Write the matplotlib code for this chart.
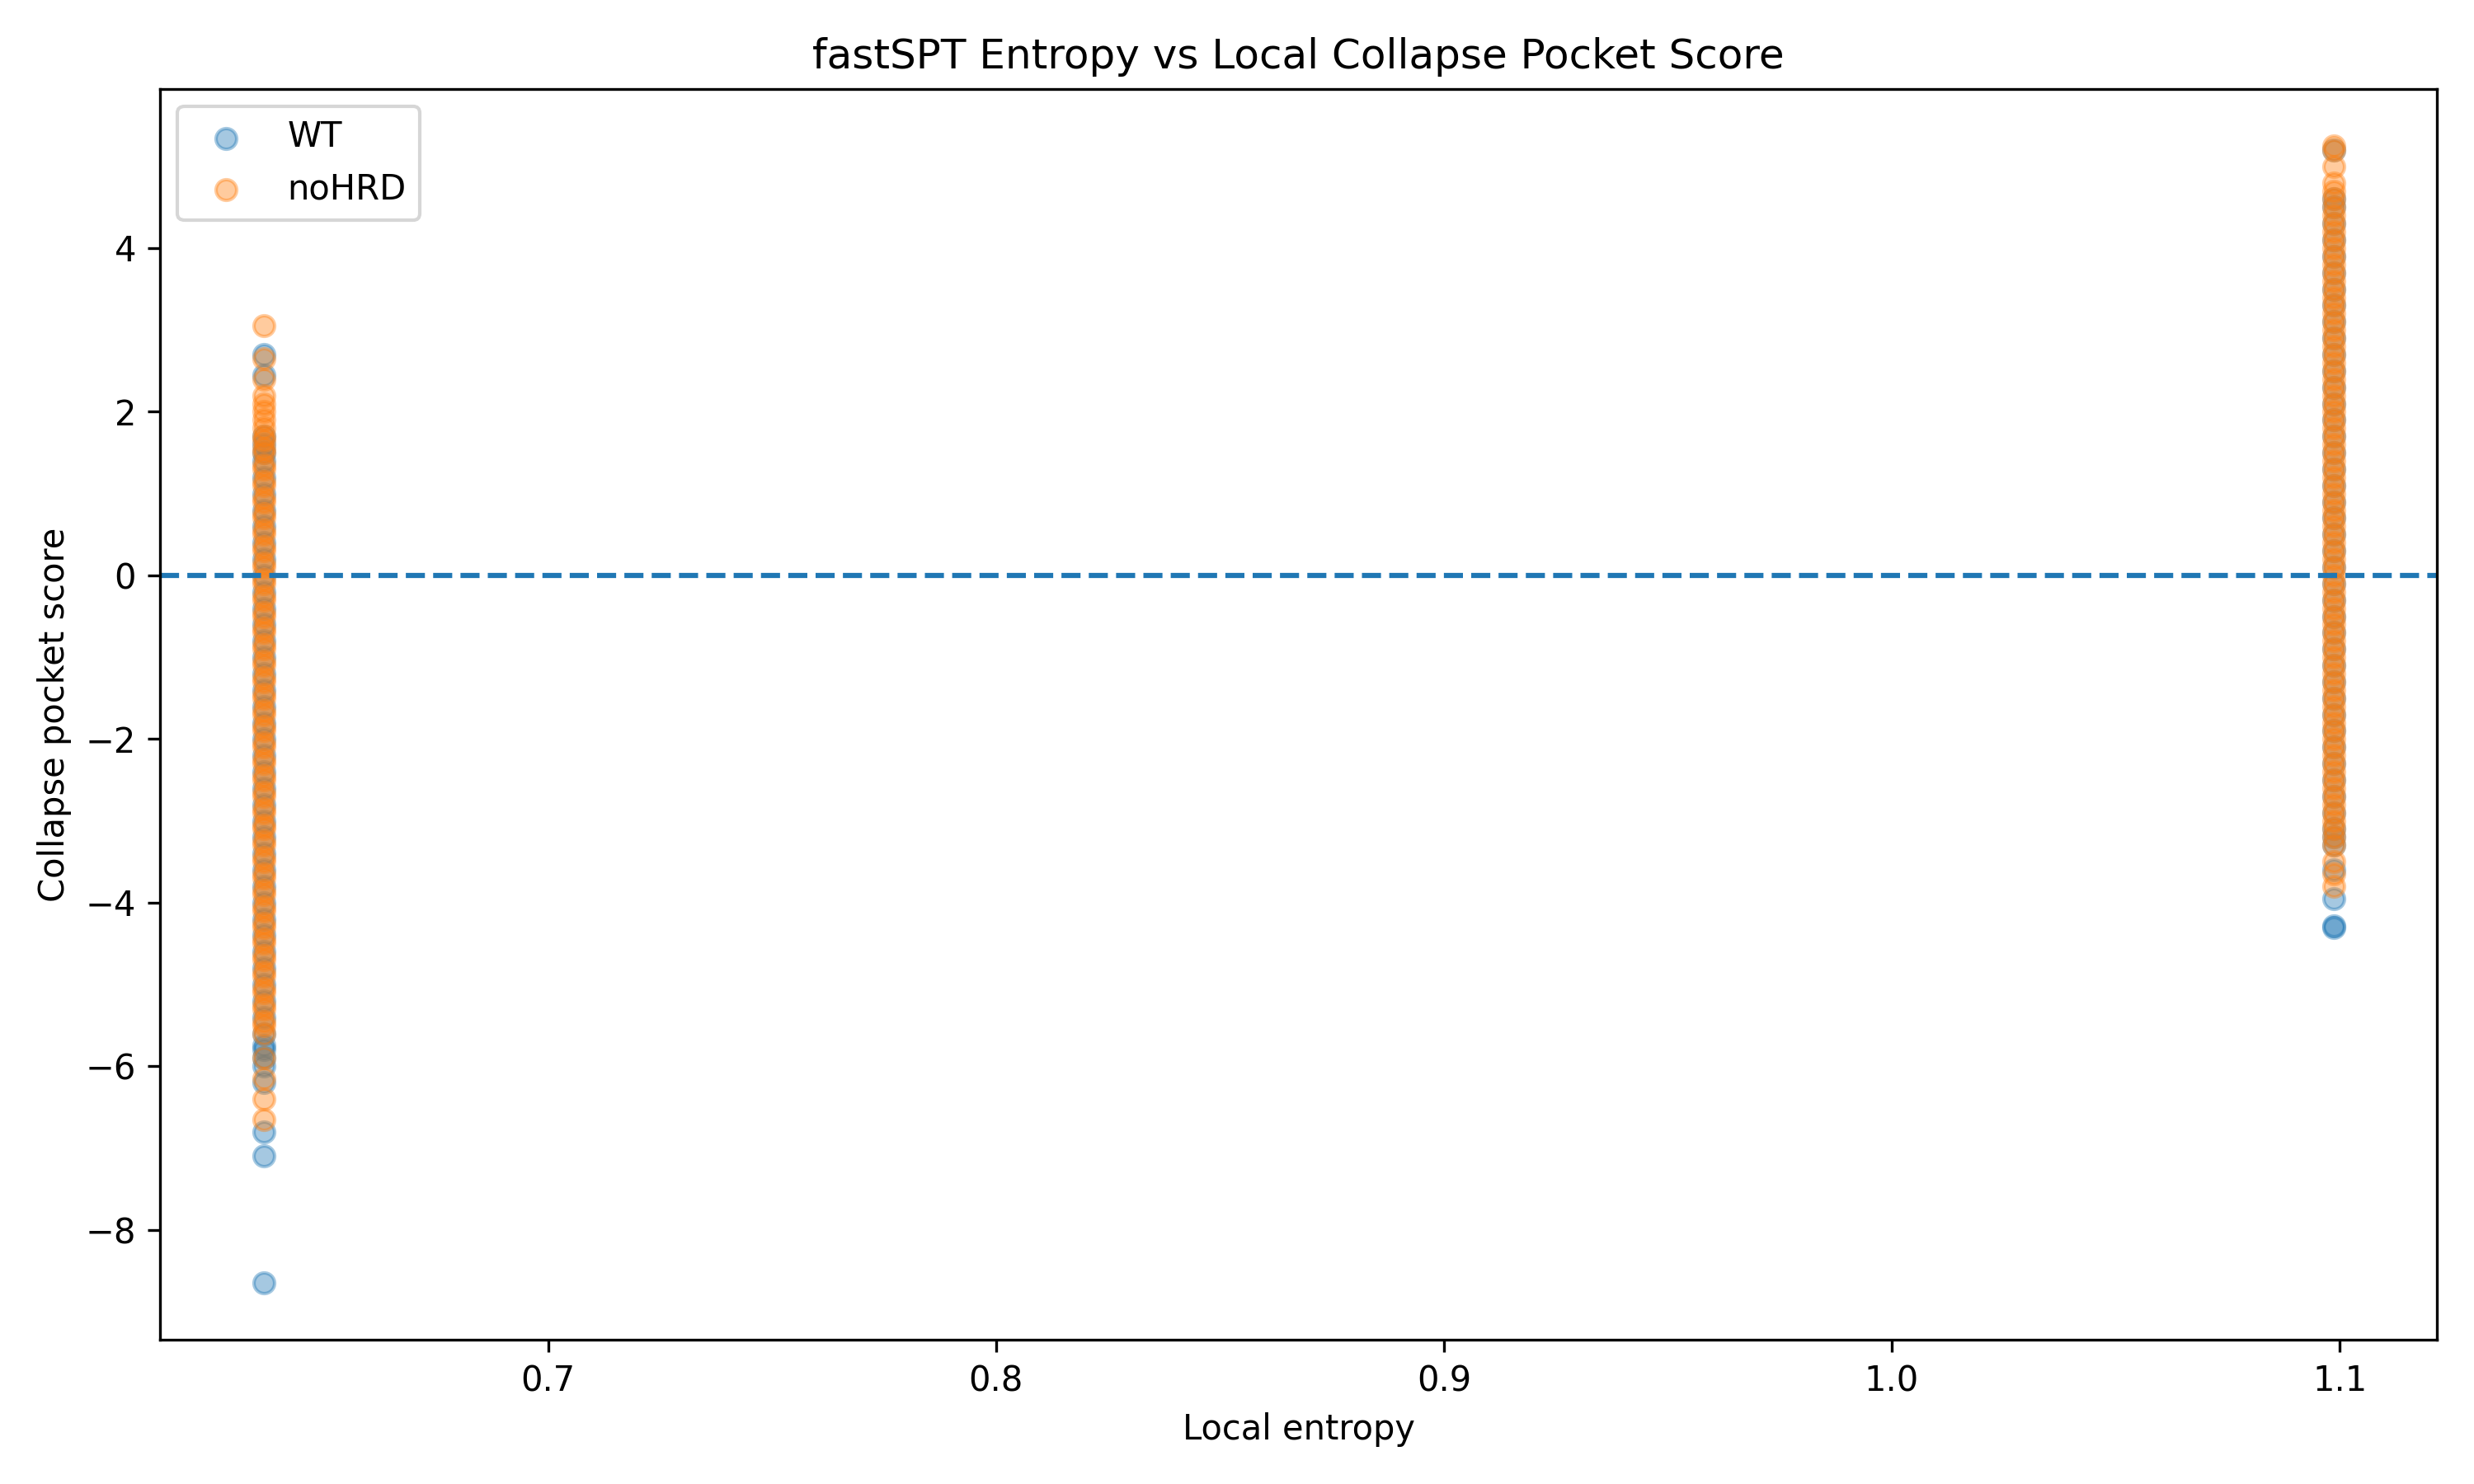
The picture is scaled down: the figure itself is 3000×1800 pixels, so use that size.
import matplotlib
matplotlib.use("Agg")
import matplotlib.pyplot as plt

# local entropy values (two discrete levels)
ent_low = 0.6365
ent_high = 1.0986

wt_low = [-8.65, -7.1, -6.8, -6.2, -6.0, -5.9, -5.8, -5.75, -5.6, -5.4, -5.2, -5.0, -4.8,
          -4.6, -4.4, -4.2, -4.0, -3.8, -3.6, -3.4, -3.2, -3.0, -2.8, -2.6, -2.4, -2.2,
          -2.0, -1.8, -1.6, -1.4, -1.2, -1.0, -0.8, -0.6, -0.4, -0.2, 0.0, 0.2, 0.4, 0.6,
          0.8, 1.0, 1.2, 1.4, 1.5, 1.6, 1.7, 2.45, 2.7]
nohrd_low = [-6.65, -6.4, -6.15, -5.9, -5.6, -5.5, -5.3, -5.1, -4.9, -4.7, -4.5, -4.3, -4.1,
             -3.9, -3.7, -3.5, -3.3, -3.1, -2.9, -2.7, -2.5, -2.3, -2.1, -1.9, -1.7, -1.5,
             -1.3, -1.1, -0.9, -0.7, -0.5, -0.3, -0.1, 0.1, 0.3, 0.5, 0.7, 0.9, 1.1, 1.3,
             1.5, 1.7, 1.8, 1.9, 2.0, 2.1, 2.2, 2.4, 2.65, 3.05,
             -5.45, -5.25, -5.05, -4.85, -4.65, -4.45, -4.25, -4.05, -3.85, -3.65, -3.45,
             -3.25, -3.05, -2.85, -2.65, -2.45, -2.25, -2.05, -1.85, -1.65, -1.45, -1.25,
             -1.05, -0.85, -0.65, -0.45, -0.25, -0.05, 0.15, 0.35, 0.55, 0.75, 0.95, 1.15,
             1.35, 1.55, 1.65]
wt_high = [-4.3, -4.28, -3.95, -3.6, -3.3, -3.2, -3.1, -2.9, -2.7, -2.5, -2.3, -2.1, -1.9,
           -1.7, -1.5, -1.3, -1.1, -0.9, -0.7, -0.5, -0.3, -0.1, 0.1, 0.3, 0.5, 0.7, 0.9,
           1.1, 1.3, 1.5, 1.7, 1.9, 2.1, 2.3, 2.5, 2.7, 2.9, 3.1, 3.3, 3.5, 3.7, 3.9, 4.1,
           4.3, 4.5, 4.6, 5.2]
nohrd_high = [-3.8, -3.65, -3.5, -3.3, -3.2, -3.0, -2.8, -2.6, -2.4, -2.2, -2.0, -1.8, -1.6,
              -1.4, -1.2, -1.0, -0.8, -0.6, -0.4, -0.2, 0.0, 0.2, 0.4, 0.6, 0.8, 1.0, 1.2,
              1.4, 1.6, 1.8, 2.0, 2.2, 2.4, 2.6, 2.8, 3.0, 3.2, 3.4, 3.6, 3.8, 4.0, 4.2, 4.4,
              4.5, 4.6, 4.8, 5.0, 5.2, 5.25,
              -3.1, -2.9, -2.7, -2.5, -2.3, -2.1, -1.9, -1.7, -1.5, -1.3, -1.1, -0.9, -0.7,
              -0.5, -0.3, -0.1, 0.1, 0.3, 0.5, 0.7, 0.9, 1.1, 1.3, 1.5, 1.7, 1.9, 2.1, 2.3,
              2.5, 2.7, 2.9, 3.1, 3.3, 3.5, 3.7, 3.9, 4.1, 4.3, 4.7]

wt_x = [ent_low] * len(wt_low) + [ent_high] * len(wt_high)
wt_y = wt_low + wt_high
no_x = [ent_low] * len(nohrd_low) + [ent_high] * len(nohrd_high)
no_y = nohrd_low + nohrd_high

fig, ax = plt.subplots(figsize=(10, 6), dpi=300)
ax.scatter(wt_x, wt_y, alpha=0.4, s=36, label="WT")
ax.scatter(no_x, no_y, alpha=0.4, s=36, label="noHRD")
ax.axhline(0, linestyle="--")
ax.set_xlabel("Local entropy")
ax.set_ylabel("Collapse pocket score")
ax.set_title("fastSPT Entropy vs Local Collapse Pocket Score")
ax.legend(loc="upper left")
fig.tight_layout()
fig.savefig("out.png")
